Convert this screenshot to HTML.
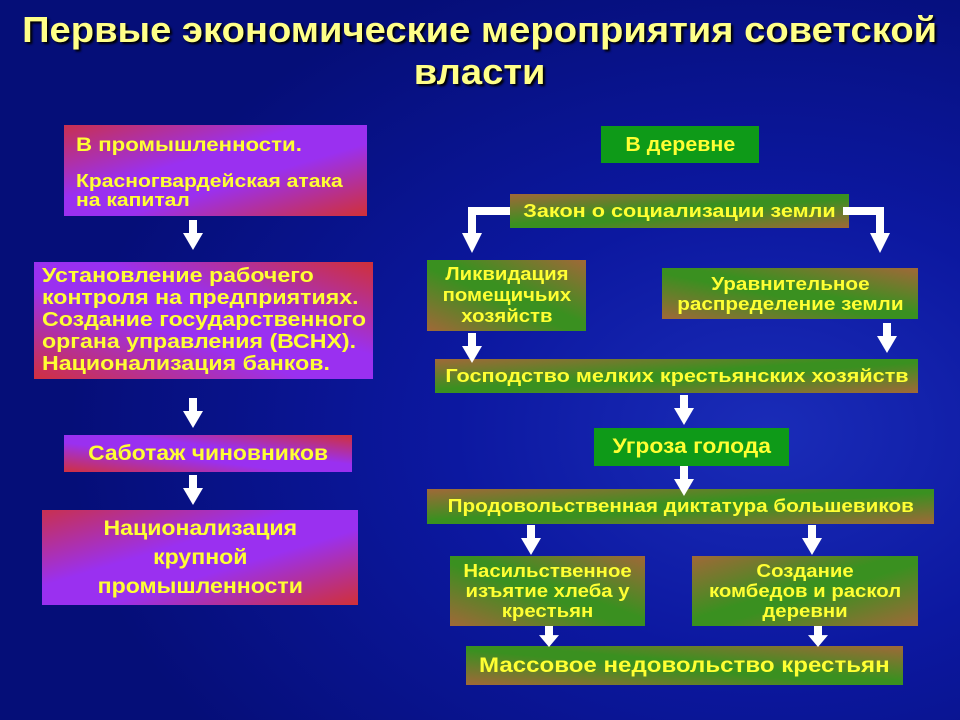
<!DOCTYPE html>
<html><head><meta charset="utf-8"><style>
*{margin:0;padding:0;box-sizing:border-box}
body{width:960px;height:720px;overflow:hidden;position:relative;font-family:"Liberation Sans","DejaVu Sans",sans-serif;font-weight:bold;color:#ffff33;
background:radial-gradient(ellipse 700px 500px at 80% 60%,#1a2cb8 0%,#0c18a0 45%,#050e78 100%);}
.t{position:absolute;left:0;width:960px;text-align:center;font-size:36px;line-height:42px;color:#ffff88;text-shadow:2px 2px 2px #000;top:9px}
.t span{display:inline-block;transform:scaleX(1.06)}
.b{position:absolute;display:flex;flex-direction:column;justify-content:center;align-items:center;text-align:center;line-height:1.1}
.b.l{align-items:flex-start;text-align:left}
.s{display:inline-block;transform-origin:center}
.l .s{transform-origin:left}
.p1{background:linear-gradient(to bottom right,#c83050 0%,#9a30f0 40%,#9a30f0 60%,#d03038 100%)}
.p2{background:linear-gradient(to top right,#d03040 0%,#9a30f0 40%,#9a30f0 60%,#d03038 100%)}
.g1{background:linear-gradient(to bottom right,#a06838 0%,#3a9020 45%,#3a9020 55%,#a06838 100%)}
.g2{background:linear-gradient(to top right,#a06838 0%,#3a9020 45%,#3a9020 55%,#a06838 100%)}
.gg{background:#0e9a18}
svg{position:absolute;left:0;top:0}
</style></head><body>
<div class="t"><span>Первые экономические мероприятия советской<br>власти</span></div>

<div class="b p1 l" style="left:64px;top:125px;width:303px;height:91px;padding-left:12px;font-size:18.5px;justify-content:flex-start;padding-top:10px">
<span class="s" style="font-size:19.5px;transform:scaleX(1.14)">В промышленности.</span><span class="s" style="margin-top:15px;line-height:19px;transform:scaleX(1.14)">Красногвардейская атака<br>на капитал</span></div>
<div class="b p2 l" style="left:34px;top:262px;width:339px;height:117px;padding-left:8px;font-size:20.5px;line-height:22px;justify-content:flex-start;padding-top:3px"><span class="s" style="transform:scaleX(1.13)">Установление рабочего<br>контроля на предприятиях.<br>Создание государственного<br>органа управления (ВСНХ).<br>Национализация банков.</span></div>
<div class="b p2" style="left:64px;top:435px;width:288px;height:37px;font-size:21px"><span class="s" style="transform:scaleX(1.09)">Саботаж чиновников</span></div>
<div class="b p1" style="left:42px;top:510px;width:316px;height:95px;font-size:21px;line-height:29px"><span class="s" style="transform:scaleX(1.1)">Национализация<br>крупной<br>промышленности</span></div>

<div class="b gg" style="left:601px;top:126px;width:158px;height:37px;font-size:20px"><span class="s" style="transform:scaleX(1.07)">В деревне</span></div>
<div class="b g1" style="left:510px;top:194px;width:339px;height:34px;font-size:18.5px"><span class="s" style="transform:scaleX(1.17)">Закон о социализации земли</span></div>
<div class="b g2" style="left:427px;top:260px;width:159px;height:71px;font-size:18px;line-height:21px"><span class="s" style="transform:scaleX(1.13)">Ликвидация<br>помещичьих<br>хозяйств</span></div>
<div class="b g2" style="left:662px;top:268px;width:256px;height:51px;font-size:18px;line-height:20px"><span class="s" style="transform:scaleX(1.15)">Уравнительное<br>распределение земли</span></div>
<div class="b g1" style="left:435px;top:359px;width:483px;height:34px;font-size:18.5px"><span class="s" style="transform:scaleX(1.17)">Господство мелких крестьянских хозяйств</span></div>
<div class="b gg" style="left:594px;top:428px;width:195px;height:38px;font-size:21px"><span class="s" style="transform:scaleX(1.09)">Угроза голода</span></div>
<div class="b g1" style="left:427px;top:489px;width:507px;height:35px;font-size:18px"><span class="s" style="transform:scaleX(1.15)">Продовольственная диктатура большевиков</span></div>
<div class="b g2" style="left:450px;top:556px;width:195px;height:70px;font-size:18px;line-height:20px"><span class="s" style="transform:scaleX(1.13)">Насильственное<br>изъятие хлеба у<br>крестьян</span></div>
<div class="b g1" style="left:692px;top:556px;width:226px;height:70px;font-size:18px;line-height:20px"><span class="s" style="transform:scaleX(1.13)">Создание<br>комбедов и раскол<br>деревни</span></div>
<div class="b g2" style="left:466px;top:646px;width:437px;height:39px;font-size:21.5px"><span class="s" style="transform:scaleX(1.12)">Массовое недовольство крестьян</span></div>

<svg width="960" height="720" fill="#fff">
<defs><g id="a"><rect x="-4" y="0" width="8" height="14"/><polygon points="-10,13 10,13 0,30"/></g></defs>
<use href="#a" x="193" y="220"/>
<use href="#a" x="193" y="398"/>
<use href="#a" x="193" y="475"/>
<polygon points="510,207 468,207 468,235 476,235 476,215 510,215"/>
<polygon points="462,233 482,233 472,253"/>
<polygon points="843,207 884,207 884,235 876,235 876,215 843,215"/>
<polygon points="870,233 890,233 880,253"/>
<use href="#a" x="472" y="333"/>
<use href="#a" x="887" y="323"/>
<use href="#a" x="684" y="395"/>
<use href="#a" x="684" y="466"/>
<use href="#a" x="531" y="525"/>
<use href="#a" x="812" y="525"/>
<g transform="translate(549,626) scale(1,0.7)"><use href="#a"/></g>
<g transform="translate(818,626) scale(1,0.7)"><use href="#a"/></g>
</svg>
</body></html>
